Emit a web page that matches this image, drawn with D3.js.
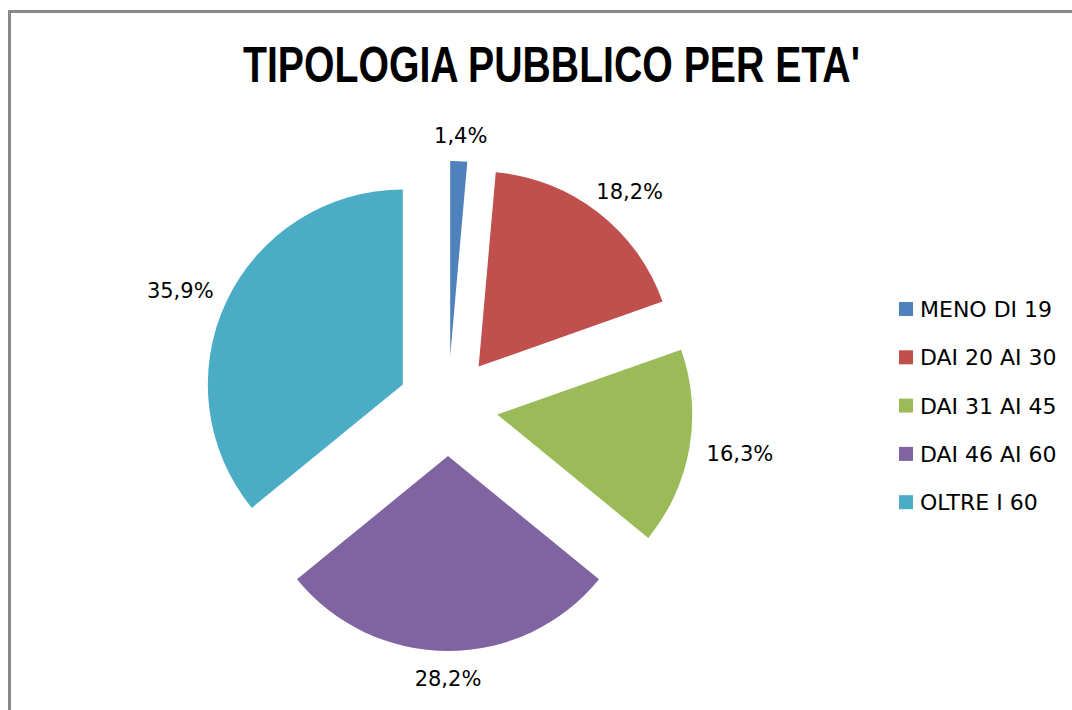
<!DOCTYPE html>
<html>
<head>
<meta charset="utf-8">
<script src="https://cdn.jsdelivr.net/npm/d3@7"></script>
<style>
  html, body { margin: 0; padding: 0; background: #fff; }
  svg { display: block; }
</style>
</head>
<body>
<svg id="chart" width="1072" height="710"></svg>
<script>
const titleText = "TIPOLOGIA PUBBLICO PER ETA'";
const categories = ["MENO DI 19", "DAI 20 AI 30", "DAI 31 AI 45", "DAI 46 AI 60", "OLTRE I 60"];
const values = [1.4, 18.2, 16.3, 28.2, 35.9];
const valueLabels = ["1,4%", "18,2%", "16,3%", "28,2%", "35,9%"];
const colors = ["#4F81BD", "#C0504D", "#9BBB59", "#8064A2", "#4BACC6"];

const svg = d3.select("#chart");
const W = 1072, H = 710;

// frame (only top and left edges visible)
svg.append("rect")
  .attr("x", 9.5).attr("y", 11.5)
  .attr("width", W + 20).attr("height", H + 20)
  .attr("fill", "none").attr("stroke", "#888").attr("stroke-width", 3);

// title
svg.append("text")
  .attr("x", 243).attr("y", 82)
  .attr("textLength", 617).attr("lengthAdjust", "spacingAndGlyphs")
  .attr("font-family", "'Liberation Sans Narrow', 'Liberation Sans', Arial, sans-serif")
  .attr("font-weight", "bold").attr("font-size", 50)
  .attr("fill", "#000")
  .text(titleText);

const cx = 448, cy = 406, r = 195, explode = 50;
const pie = d3.pie().sort(null).value(d => d.value).startAngle(0).endAngle(2 * Math.PI);
const arc = d3.arc().innerRadius(0).outerRadius(r);
const data = categories.map((c, i) => ({ cat: c, value: values[i], label: valueLabels[i], color: colors[i] }));
const arcs = pie(data);

const g = svg.append("g").attr("transform", `translate(${cx},${cy})`);

arcs.forEach(a => {
  const mid = (a.startAngle + a.endAngle) / 2;
  const dx = Math.sin(mid), dy = -Math.cos(mid);
  a.ox = dx * explode; a.oy = dy * explode;
  a.dx = dx; a.dy = dy;
});

g.selectAll("path.slice").data(arcs).join("path")
  .attr("class", "slice")
  .attr("transform", d => `translate(${d.ox},${d.oy})`)
  .attr("d", arc)
  .attr("fill", d => d.data.color);

// labels outside end
const labelFont = "'DejaVu Sans', Verdana, sans-serif";
const lab = g.selectAll("text.lbl").data(arcs).join("text")
  .attr("class", "lbl")
  .attr("font-family", labelFont).attr("font-size", 21)
  .attr("fill", "#000")
  .attr("text-anchor", "middle")
  .text(d => d.data.label);

lab.each(function(d) {
  const bb = this.getBBox();
  const w = bb.width, h = 17;
  const rr = r + 18;
  const px = d.ox + d.dx * rr + d.dx * w / 2;
  const py = d.oy + d.dy * rr + d.dy * h / 2;
  d3.select(this).attr("x", px).attr("y", py + 8);
});

// legend
const legend = svg.append("g").attr("transform", "translate(899,309)");
const rowH = 48.3;
const items = legend.selectAll("g").data(data).join("g")
  .attr("transform", (d, i) => `translate(0,${i * rowH})`);
items.append("rect")
  .attr("x", 0).attr("y", -7).attr("width", 14).attr("height", 14)
  .attr("fill", d => d.color);
items.append("text")
  .attr("x", 21).attr("y", 8)
  .attr("font-family", labelFont).attr("font-size", 22)
  .attr("fill", "#000")
  .text(d => d.cat);
</script>
</body>
</html>
